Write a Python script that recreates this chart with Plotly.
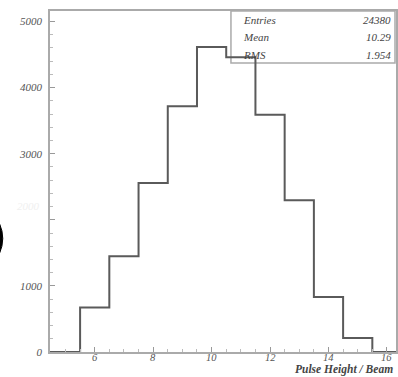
import plotly.graph_objects as go

# Data
bin_centers = [6, 7, 8, 9, 10, 11, 12, 13, 14, 15]
counts = [672, 1448, 2557, 3717, 4614, 4458, 3591, 2295, 832, 212]
y_tick_vals = [0, 1000, 2000, 3000, 4000, 5000]
y_tick_text = ["0", "1000", "", "3000", "4000", "5000"]
x_tick_vals = [6, 8, 10, 12, 14, 16]
x_tick_text = ["6", "8", "10", "12", "14", "16"]
stats_labels = ["Entries", "Mean", "RMS"]
stats_values = ["24380", "10.29", "1.954"]

W, H = 398, 377
ML, MR, MT, MB = 50, 0, 11, 25
XR = [4.47, 16.31]
YR = [0, 5159]

# step outline built from the bin centres
edges = [c - 0.5 for c in bin_centers] + [bin_centers[-1] + 0.5]
xs = [XR[0]] + edges + [XR[1]]
ys = [0] + counts + [0, 0]

fig = go.Figure()
fig.add_trace(go.Scatter(x=xs, y=ys, mode="lines", line=dict(shape="hv", color="#5a5a5a", width=2),
                         hoverinfo="skip", showlegend=False))

font = dict(family="Liberation Serif", size=11, color="#555555", style="italic")
xfont = dict(family="Liberation Serif", size=10.5, color="#555555", style="italic")

fig.update_layout(
    width=W, height=H, margin=dict(l=ML, r=MR, t=MT, b=MB),
    paper_bgcolor="white", plot_bgcolor="white", showlegend=False,
    xaxis=dict(range=XR, tickvals=x_tick_vals, ticks="inside", ticklen=5, showticklabels=False,
               tickcolor="#999", tickwidth=1, showgrid=False, zeroline=False,
               showline=True, linecolor="#aaaaaa", linewidth=1.5, mirror=True,
               minor=dict(dtick=0.5, ticks="inside", ticklen=3, tickcolor="#bbb", tick0=0)),
    yaxis=dict(range=YR, tickvals=y_tick_vals, ticktext=y_tick_text, ticks="inside", ticklen=5,
               tickcolor="#999", tickwidth=1, showgrid=False, zeroline=False,
               showline=True, linecolor="#aaaaaa", linewidth=1.5, mirror=True,
               tickfont=font, ticklabelstandoff=4,
               minor=dict(dtick=200, ticks="inside", ticklen=3, tickcolor="#bbb", tick0=0)),
)

pw = W - ML - MR
ph = H - MT - MB
def px(xp):
    return (xp - ML) / pw
def py(yp):
    return (H - MB - yp) / ph

# x tick labels placed on the x scale, tucked close under the axis as in the reference
for v, t in zip(x_tick_vals, x_tick_text):
    fig.add_annotation(xref="x", yref="paper", x=v, y=py(357.5), text=t, showarrow=False,
                       xanchor="center", yanchor="middle", borderpad=0, font=xfont)

# stats box
fig.add_shape(type="rect", xref="paper", yref="paper", x0=px(232), x1=px(397), y0=py(63), y1=1.0,
              line=dict(color="#aaaaaa", width=1.5), fillcolor="white", layer="below")
rows_y = [20, 37, 55]
for lab, val, yy in zip(stats_labels, stats_values, rows_y):
    fig.add_annotation(xref="paper", yref="paper", x=px(242), y=py(yy), text=lab, showarrow=False,
                       xanchor="left", yanchor="middle", font=dict(family="Liberation Serif", size=11, color="#444", style="italic"))
    fig.add_annotation(xref="paper", yref="paper", x=px(395), y=py(yy), text=val, showarrow=False,
                       xanchor="right", yanchor="middle", font=dict(family="Liberation Serif", size=11, color="#444", style="italic"))

# faint 2000 label
fig.add_annotation(xref="paper", yref="paper", x=px(42), y=py(206), text="2000", showarrow=False,
                   xanchor="right", yanchor="middle", font=dict(family="Liberation Serif", size=11, color="#f0f0f0", style="italic"))

# axis title
fig.add_annotation(xref="paper", yref="paper", x=px(396), y=py(369.5), text="Pulse Height / Beam", showarrow=False,
                   xanchor="right", yanchor="middle", borderpad=0,
                   font=dict(family="Liberation Serif", size=11.5, color="#444", style="italic", weight="bold"))

# black crescent at the left edge (cut-off mark of the scanned page)
path = (f"M {px(-1)},{py(223)} Q {px(6)},{py(238.5)} {px(-1)},{py(254)} "
        f"Q {px(0.5)},{py(238.5)} {px(-1)},{py(223)} Z")
fig.add_shape(type="path", xref="paper", yref="paper", path=path, fillcolor="black",
              line=dict(color="black", width=1))

fig.write_html("out.html")
